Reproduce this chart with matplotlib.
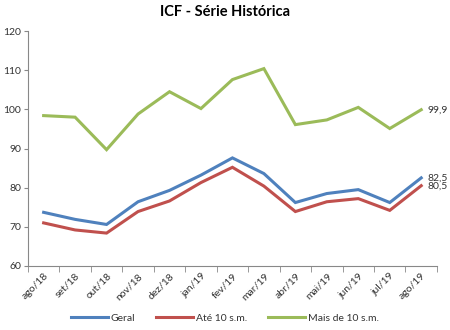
import matplotlib.pyplot as plt
import numpy as np

meses = ["ago/18", "set/18", "out/18", "nov/18", "dez/18", "jan/19", "fev/19",
         "mar/19", "abr/19", "mai/19", "jun/19", "jul/19", "ago/19"]
geral = [73.7, 71.9, 70.6, 76.4, 79.3, 83.2, 87.6, 83.6, 76.2, 78.5, 79.5, 76.2, 82.5]
ate10 = [71.0, 69.2, 68.4, 73.9, 76.6, 81.3, 85.2, 80.4, 73.9, 76.4, 77.2, 74.2, 80.5]
mais10 = [98.4, 98.0, 89.7, 98.8, 104.5, 100.2, 107.6, 110.4, 96.1, 97.3, 100.5, 95.1, 99.9]

plt.rcParams['font.family'] = ['Lato', 'DejaVu Sans']

fig = plt.figure(figsize=(4.5, 3.3), dpi=100)
ax = fig.add_axes([0.062, 0.194, 0.909, 0.712])

x = np.arange(len(meses))
series = [(geral, "Geral", "#4F81BD"),
          (ate10, "Até 10 s.m.", "#C0504D"),
          (mais10, "Mais de 10 s.m.", "#9BBB59")]
for vals, nome, cor in series:
    ax.plot(x, vals, color=cor, lw=2.2, label=nome, solid_joinstyle='miter')
    ax.text(x[-1] + 0.2, vals[-1], f"{vals[-1]:.1f}".replace(".", ","),
            fontsize=7.5, color="#333333", va="center", ha="left")

ax.set_xlim(-0.5, len(meses) - 0.5)
ax.set_ylim(60, 120)
ax.set_yticks(range(60, 121, 10))
ax.tick_params(axis='y', labelsize=7.5, length=3, color="#888888", pad=2, labelcolor="#333333")
ax.set_xticks(x)
ax.set_xticklabels(meses, rotation=45, ha="right", rotation_mode="anchor", fontsize=7.5,
                   color="#333333")
ax.tick_params(axis='x', length=0, pad=4)
ax.set_xticks(np.arange(-0.5, len(meses)), minor=True)
ax.tick_params(axis='x', which='minor', length=4, color="#888888")

for s in ["top", "right"]:
    ax.spines[s].set_visible(False)
for s in ["left", "bottom"]:
    ax.spines[s].set_color("#888888")
    ax.spines[s].set_linewidth(0.8)

fig.text(0.5, 0.965, "ICF - Série Histórica", ha="center", va="center",
         fontsize=10.5, fontweight="bold")
leg = fig.legend(loc="center", bbox_to_anchor=(0.5, 0.035), ncol=3, frameon=False,
                 fontsize=7.5, handlelength=3.5, columnspacing=2.0, handletextpad=0.3)
for t in leg.get_texts():
    t.set_color("#333333")

fig.savefig("out.png", dpi=100)
